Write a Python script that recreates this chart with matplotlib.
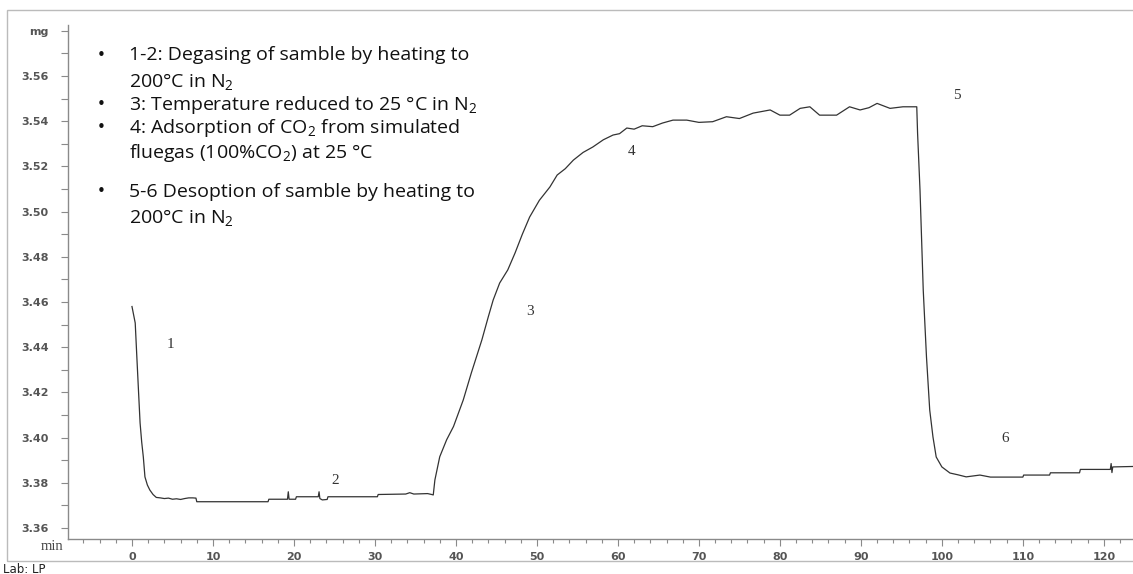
import numpy as np
import matplotlib
matplotlib.use("Agg")
import matplotlib.pyplot as plt
from matplotlib.patches import Rectangle

# TGA trace: time (min) vs sample mass (mg)
time = [0.0, 0.4, 0.6, 0.8, 1.0, 1.2, 1.4, 1.6, 1.9, 2.2, 2.6, 3.0, 3.5, 4.0, 4.5,
        5.0, 5.5, 6.0, 6.5, 7.0, 7.5, 7.9, 8.0, 16.8, 16.9, 19.2, 19.3, 19.4, 20.2,
        20.3, 23.0, 23.1, 23.2, 23.5, 24.1, 24.2, 30.3, 30.4, 33.8, 34.3, 34.8, 36.5,
        37.0, 37.2, 37.4, 38.0, 38.85, 39.7, 40.9, 41.9, 43.2, 44.0, 44.6, 45.4, 46.4,
        47.3, 48.2, 49.1, 50.3, 51.6, 52.5, 53.5, 54.5, 55.7, 56.9, 58.2, 59.4, 60.2,
        61.1, 62.0, 63.0, 64.3, 65.5, 66.8, 68.5, 70.0, 71.7, 73.4, 75.0, 76.7, 78.8,
        80.0, 81.2, 82.5, 83.7, 84.9, 87.0, 88.6, 89.9, 91.0, 92.0, 93.6, 95.2, 96.4,
        96.9, 97.0, 97.3, 97.7, 98.1, 98.5, 98.9, 99.3, 100.0, 101.0, 102.0, 103.0,
        104.7, 106.0, 110.0, 110.1, 113.3, 113.4, 117.0, 117.1, 120.8, 120.9, 121.0,
        121.1, 123.6]
mass = [3.4580, 3.4507, 3.4357, 3.4210, 3.4065, 3.3980, 3.3914, 3.3826, 3.3790,
        3.3768, 3.3748, 3.3735, 3.3733, 3.3730, 3.3732, 3.3727, 3.3729, 3.3726,
        3.3730, 3.3733, 3.3733, 3.3732, 3.3716, 3.3716, 3.3727, 3.3727, 3.3760,
        3.3727, 3.3727, 3.3738, 3.3738, 3.3760, 3.3730, 3.3724, 3.3726, 3.3738,
        3.3738, 3.3748, 3.3750, 3.3756, 3.3750, 3.3752, 3.3748, 3.3746, 3.3812,
        3.3915, 3.3990, 3.4049, 3.4166, 3.4286, 3.4432, 3.4535, 3.4609, 3.4684,
        3.4742, 3.4817, 3.4900, 3.4976, 3.5050, 3.5109, 3.5162, 3.5190, 3.5228,
        3.5262, 3.5286, 3.5318, 3.5339, 3.5345, 3.5370, 3.5365, 3.5380, 3.5376,
        3.5392, 3.5405, 3.5405, 3.5395, 3.5398, 3.5420, 3.5412, 3.5436, 3.5450,
        3.5427, 3.5427, 3.5457, 3.5464, 3.5427, 3.5427, 3.5464, 3.5450, 3.5460,
        3.5479, 3.5457, 3.5464, 3.5464, 3.5464, 3.5348, 3.5096, 3.4653, 3.4357,
        3.4122, 3.4003, 3.3914, 3.3870, 3.3843, 3.3835, 3.3826, 3.3834, 3.3825,
        3.3825, 3.3834, 3.3834, 3.3844, 3.3844, 3.3859, 3.3859, 3.3885, 3.3845,
        3.3870, 3.3872]

# stage numbers and where they sit
stage_labels = ["1", "2", "3", "4", "5", "6"]
stage_t = [4.7, 25.1, 49.1, 61.7, 101.8, 107.8]
stage_m = [3.441, 3.3812, 3.456, 3.5264, 3.5512, 3.3995]

y_ticks = [3.36, 3.38, 3.40, 3.42, 3.44, 3.46, 3.48, 3.50, 3.52, 3.54, 3.56, 3.58]
y_ticklabels = ["3.36", "3.38", "3.40", "3.42", "3.44", "3.46", "3.48", "3.50",
                "3.52", "3.54", "3.56", "mg"]
x_ticks = [0, 10, 20, 30, 40, 50, 60, 70, 80, 90, 100, 110, 120]

notes = [
    ("\u2022", "1-2: Degasing of samble by heating to"),
    ("", "200\u00b0C in N$\\mathregular{_2}$"),
    ("\u2022", "3: Temperature reduced to 25 \u00b0C in N$\\mathregular{_2}$"),
    ("\u2022", "4: Adsorption of CO$\\mathregular{_2}$ from simulated"),
    ("", "fluegas (100%CO$\\mathregular{_2}$) at 25 \u00b0C"),
    ("\u2022", "5-6 Desoption of samble by heating to"),
    ("", "200\u00b0C in N$\\mathregular{_2}$"),
]
note_y = [55, 81, 105, 128, 153, 192, 217]

plt.rcParams['mathtext.fontset'] = 'custom'
plt.rcParams['mathtext.rm'] = 'Open Sans'

W, H = 1133, 574
fig = plt.figure(figsize=(W / 100, H / 100), dpi=100)
ax = fig.add_axes([68 / W, 1 - 539 / H, (W - 68) / W, (539 - 25) / H])

ax.plot(time, mass, color='#333333', lw=0.9)

ax.set_xlim(-7.9, 123.6)
ax.set_ylim(3.3551, 3.5826)

ax.set_yticks(y_ticks)
ax.set_yticklabels(y_ticklabels)
ax.set_yticks(np.arange(3.37, 3.58, 0.02), minor=True)
ax.set_xticks(x_ticks)
ax.set_xticks(np.arange(-6, 124, 2), minor=True)

for s in ['top', 'right']:
    ax.spines[s].set_visible(False)
for s in ['left', 'bottom']:
    ax.spines[s].set_color('#8a8a8a')
    ax.spines[s].set_linewidth(1.0)

ax.tick_params(axis='y', which='both', direction='out', length=5, width=0.8,
               color='#8a8a8a', labelsize=8, labelcolor='#555555', pad=9)
ax.tick_params(axis='x', which='major', direction='out', length=5, width=0.8,
               color='#8a8a8a', labelsize=8, labelcolor='#555555', pad=4)
ax.tick_params(axis='x', which='minor', direction='out', length=3, width=0.8,
               color='#8a8a8a')
for lab in ax.get_xticklabels() + ax.get_yticklabels():
    lab.set_fontweight('bold')

for lab, t, m in zip(stage_labels, stage_t, stage_m):
    ax.text(t, m, lab, family='Liberation Serif', fontsize=11, color='#333333',
            ha='center', va='center')

# notes in the upper left
for (bullet, line), py in zip(notes, note_y):
    if bullet:
        fig.text(101 / W, 1 - py / H, bullet, family='DejaVu Sans', fontsize=11,
                 ha='center', va='center', color='#111111')
    fig.text(129 / W, 1 - py / H, line, family='Open Sans', fontsize=14,
             ha='left', va='center', color='#111111')

fig.text(52 / W, 1 - 547 / H, "min", family='Liberation Serif', fontsize=10.5,
         ha='center', va='center', color='#444444')
fig.text(3 / W, 1 - 563 / H, "Lab: LP", family='DejaVu Sans', fontsize=8.5,
         ha='left', va='top', color='#222222')

# outer frame
fig.patches.append(Rectangle((7 / W, 1 - 561 / H), 1.0, (561 - 10) / H,
                             transform=fig.transFigure, fill=False,
                             edgecolor='#bbbbbb', lw=1.0))

fig.savefig('out.png', dpi=100)
